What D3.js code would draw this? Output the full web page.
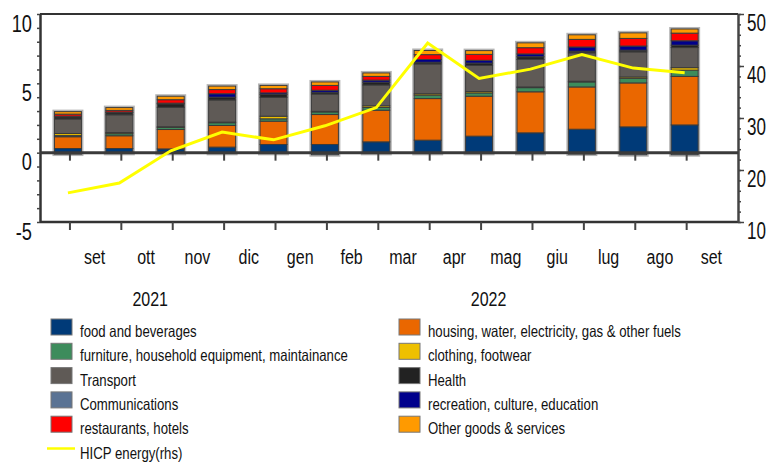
<!DOCTYPE html>
<html>
<head>
  <meta charset="utf-8">
  <script src="https://d3js.org/d3.v7.min.js"></script>
  <style>
    body { margin: 0; background: #fff; }
    text { font-family: "Liberation Sans", Arial, sans-serif; fill: #111; }
  </style>
</head>
<body>
<svg id="chart" width="772" height="467"></svg>
<script>
  // months of the x axis (Sep 2021 - Sep 2022)
  const months = ['set', 'ott', 'nov', 'dic', 'gen', 'feb', 'mar', 'apr', 'mag', 'giu', 'lug', 'ago', 'set'];
  const years = ['2021', '2022'];

  // contributions, percentage points (lhs)
  const food        = [0.30, 0.30, 0.27, 0.40, 0.59, 0.59, 0.78, 0.90, 1.19, 1.43, 1.69, 1.86, 2.00];
  const housing     = [0.85, 0.92, 1.40, 1.56, 1.68, 2.16, 2.28, 3.00, 2.88, 2.96, 3.05, 3.17, 3.50];
  const furniture   = [0.08, 0.15, 0.15, 0.20, 0.17, 0.19, 0.20, 0.25, 0.24, 0.30, 0.36, 0.33, 0.45];
  const clothing    = [0.15, 0.08, 0.05, 0.04, 0.19, 0.04, 0.12, 0.10, 0.10, 0.05, 0.05, 0.10, 0.18];
  const transport   = [1.05, 1.28, 1.40, 1.60, 1.36, 1.25, 1.50, 2.15, 1.88, 1.98, 2.05, 1.81, 1.45];
  const health      = [0.15, 0.15, 0.25, 0.20, 0.20, 0.12, 0.20, 0.12, 0.17, 0.20, 0.12, 0.12, 0.17];
  const comms       = [-0.10, -0.05, -0.05, -0.05, -0.05, -0.15, -0.05, -0.05, -0.05, -0.05, -0.10, -0.15, -0.15];
  const recreation  = [0.05, 0.05, 0.05, 0.25, 0.12, 0.15, 0.15, 0.20, 0.20, 0.20, 0.30, 0.30, 0.32];
  const restaurants = [0.15, 0.12, 0.25, 0.30, 0.30, 0.35, 0.27, 0.35, 0.43, 0.45, 0.55, 0.55, 0.55];
  const other       = [0.18, 0.20, 0.25, 0.25, 0.24, 0.25, 0.25, 0.30, 0.27, 0.35, 0.33, 0.40, 0.30];

  // HICP energy, % (rhs)
  const energy = [15.6, 17.5, 23.7, 27.3, 25.8, 28.5, 32.0, 44.4, 37.6, 39.4, 42.2, 39.6, 38.7];

  const series = [
    { key: 'food', label: 'food and beverages', values: food, color: '#003a78' },
    { key: 'housing', label: 'housing, water, electricity, gas & other fuels', values: housing, color: '#ea6700' },
    { key: 'furniture', label: 'furniture, household equipment, maintainance', values: furniture, color: '#3d8c5c' },
    { key: 'clothing', label: 'clothing, footwear', values: clothing, color: '#eec000' },
    { key: 'transport', label: 'Transport', values: transport, color: '#5f5a56' },
    { key: 'health', label: 'Health', values: health, color: '#222222' },
    { key: 'comms', label: 'Communications', values: comms, color: '#5a7394' },
    { key: 'recreation', label: 'recreation, culture, education', values: recreation, color: '#00008c' },
    { key: 'restaurants', label: 'restaurants, hotels', values: restaurants, color: '#ff0000' },
    { key: 'other', label: 'Other goods & services', values: other, color: '#ff9a00' }
  ];
  // legend order: two columns, top to bottom
  const legendLeft = ['food', 'furniture', 'transport', 'comms', 'restaurants'];
  const legendRight = ['housing', 'clothing', 'health', 'recreation', 'other'];

  const svg = d3.select('#chart');
  const plot = { left: 40, right: 738, top: 14, bottom: 222 };

  // the original uses a narrow face: squeeze the text horizontally
  function squeeze(sel, f) {
    sel.each(function () {
      const w = this.getComputedTextLength();
      d3.select(this).attr('textLength', w * f).attr('lengthAdjust', 'spacingAndGlyphs');
    });
  }

  const rows = months.map((m, i) => {
    const r = { idx: i };
    series.forEach(s => { r[s.key] = s.values[i]; });
    return r;
  });

  const x = d3.scaleBand().domain(d3.range(months.length))
    .range([41.6, 711]).paddingInner(0.475).paddingOuter(0.25);
  const yL = d3.scaleLinear().domain([-5, 10]).range([plot.bottom, plot.top]);
  const yR = d3.scaleLinear().domain([10, 50]).range([plot.bottom, plot.top]);

  const stacked = d3.stack().keys(series.map(s => s.key)).offset(d3.stackOffsetDiverging)(rows);
  const colorOf = {};
  series.forEach(s => { colorOf[s.key] = s.color; });

  // light halo round each bar
  const totals = rows.map(r => ({
    idx: r.idx,
    lo: d3.sum(series, s => Math.min(0, r[s.key])),
    hi: d3.sum(series, s => Math.max(0, r[s.key]))
  }));
  svg.append('g').selectAll('rect').data(totals).join('rect')
    .attr('x', d => x(d.idx) - 1)
    .attr('width', x.bandwidth() + 2)
    .attr('y', d => yL(d.hi) - 1)
    .attr('height', d => yL(d.lo) - yL(d.hi) + 2)
    .attr('fill', 'none')
    .attr('stroke', '#b5b5b5')
    .attr('stroke-width', 2);

  // stacked bars
  svg.append('g').selectAll('g').data(stacked).join('g')
    .attr('fill', d => colorOf[d.key])
    .selectAll('rect').data(d => d).join('rect')
    .attr('x', d => x(d.data.idx))
    .attr('width', x.bandwidth())
    .attr('y', d => yL(d[1]))
    .attr('height', d => Math.max(0, yL(d[0]) - yL(d[1])))
    .attr('stroke', '#3a3a3a')
    .attr('stroke-width', 1);

  // frame lines
  svg.append('line').attr('x1', plot.left).attr('x2', plot.right).attr('y1', plot.top).attr('y2', plot.top)
    .attr('stroke', '#333').attr('stroke-width', 2);
  svg.append('line').attr('x1', plot.left).attr('x2', plot.right).attr('y1', plot.bottom).attr('y2', plot.bottom)
    .attr('stroke', '#333').attr('stroke-width', 2.5);

  // left axis
  const leftMinor = svg.append('g').attr('transform', `translate(${plot.left},0)`)
    .call(d3.axisLeft(yL).tickValues(d3.range(-5, 11, 1)).tickSize(3).tickSizeOuter(0).tickFormat(''));
  leftMinor.select('.domain').attr('stroke', '#333').attr('stroke-width', 2.5);
  leftMinor.selectAll('.tick line').attr('stroke', '#444').attr('stroke-width', 1.5);
  const leftAxis = svg.append('g').attr('transform', `translate(${plot.left},0)`)
    .call(d3.axisLeft(yL).tickValues([-5, 0, 5, 10]).tickSize(0).tickPadding(8).tickFormat(d => String(d)));
  leftAxis.select('.domain').remove();
  leftAxis.selectAll('text').attr('dy', '0.72em').style('font-size', '24px')
    .call(squeeze, 0.76);

  // right axis
  const rightMinor = svg.append('g').attr('transform', `translate(${plot.right},0)`)
    .call(d3.axisRight(yR).tickValues(d3.range(10, 51, 2)).tickSize(3).tickSizeOuter(0).tickFormat(''));
  rightMinor.select('.domain').attr('stroke', '#444').attr('stroke-width', 2.5);
  rightMinor.selectAll('.tick line').attr('stroke', '#444').attr('stroke-width', 1.5);
  const rightAxis = svg.append('g').attr('transform', `translate(${plot.right},0)`)
    .call(d3.axisRight(yR).tickValues([10, 20, 30, 40, 50]).tickSize(6).tickPadding(3).tickSizeOuter(0)
      .tickFormat(d => String(d)));
  rightAxis.select('.domain').remove();
  rightAxis.selectAll('.tick line').attr('stroke', '#444').attr('stroke-width', 1.5);
  rightAxis.selectAll('text').attr('dy', '0.72em').style('font-size', '23px')
    .call(squeeze, 0.74);

  // zero line with category ticks
  const zeroAxis = svg.append('g').attr('transform', `translate(2,${yL(0)})`)
    .call(d3.axisBottom(x).tickSize(8).tickSizeOuter(0).tickFormat(''));
  zeroAxis.select('.domain').remove();
  zeroAxis.selectAll('.tick line').attr('stroke', '#444').attr('stroke-width', 2);
  svg.append('line').attr('x1', plot.left).attr('x2', plot.right).attr('y1', yL(0)).attr('y2', yL(0))
    .attr('stroke', '#3a3a3a').attr('stroke-width', 3);

  // bottom category ticks
  const botAxis = svg.append('g').attr('transform', `translate(2,${plot.bottom})`)
    .call(d3.axisBottom(x).tickSize(8).tickSizeOuter(0).tickFormat(''));
  botAxis.select('.domain').remove();
  botAxis.selectAll('.tick line').attr('stroke', '#444').attr('stroke-width', 2);

  // month labels sit between the ticks
  const monthAxis = svg.append('g').attr('transform', `translate(${x.step() / 2 + 1},${plot.bottom})`)
    .call(d3.axisBottom(x).tickSize(0).tickPadding(28).tickFormat(i => months[i]));
  monthAxis.select('.domain').remove();
  monthAxis.selectAll('text').style('font-size', '20px').call(squeeze, 0.8);

  // years
  svg.append('g').selectAll('text').data(years).join('text')
    .attr('x', (d, i) => i === 0 ? x(2) - 7 : x(8) + 23)
    .attr('y', 306)
    .attr('text-anchor', 'middle')
    .style('font-size', '20px')
    .text(d => d)
    .call(squeeze, 0.8);

  // HICP energy line
  const line = d3.line().x((d, i) => x(i) + x.bandwidth() / 2).y(d => yR(d));
  svg.append('path').datum(energy)
    .attr('d', line)
    .attr('fill', 'none')
    .attr('stroke', '#ffff00')
    .attr('stroke-width', 3);

  // legend
  const rowY = i => 327 + i * 24.3;
  const legend = svg.append('g');
  [[legendLeft, 51], [legendRight, 399]].forEach(([keys, lx]) => {
    keys.forEach((k, i) => {
      const s = series.find(d => d.key === k);
      legend.append('rect')
        .attr('x', lx).attr('y', rowY(i) - 8)
        .attr('width', 21).attr('height', 16)
        .attr('fill', s.color)
        .attr('stroke', '#777').attr('stroke-width', 1);
      legend.append('text')
        .attr('x', lx + 29).attr('y', rowY(i) + 4)
        .attr('dominant-baseline', 'central')
        .style('font-size', '16.5px')
        .text(s.label)
        .call(squeeze, 0.8);
    });
  });
  legend.append('line')
    .attr('x1', 47).attr('x2', 75).attr('y1', rowY(5)).attr('y2', rowY(5))
    .attr('stroke', '#ffff00').attr('stroke-width', 2.5);
  legend.append('text')
    .attr('x', 80).attr('y', rowY(5) + 4)
    .attr('dominant-baseline', 'central')
    .style('font-size', '16.5px')
    .text('HICP energy(rhs)')
    .call(squeeze, 0.8);
</script>
</body>
</html>
